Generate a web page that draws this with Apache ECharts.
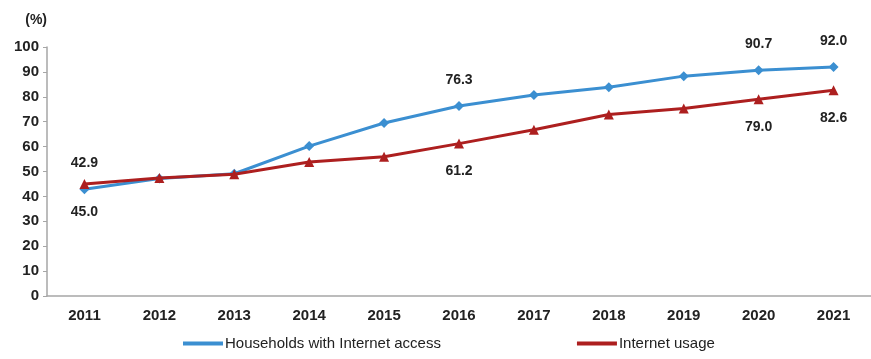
<!DOCTYPE html>
<html>
<head>
<meta charset="utf-8">
<script src="https://cdn.jsdelivr.net/npm/echarts@6/dist/echarts.min.js"></script>
<style>
  html, body { margin: 0; padding: 0; background: #fff; }
</style>
</head>
<body>
<div id="chart" style="width: 871px;height: 359px;"></div>
<script>
  // 数据
  const years = ['2011', '2012', '2013', '2014', '2015', '2016', '2017', '2018', '2019', '2020', '2021']
  const households = [42.9, 47.2, 49.1, 60.2, 69.5, 76.3, 80.7, 83.8, 88.3, 90.7, 92.0]
  const usage = [45.0, 47.4, 48.9, 53.8, 55.9, 61.2, 66.8, 72.9, 75.3, 79.0, 82.6]
  const labelYears = ['2011', '2016', '2020', '2021']   // 只标注这几年的数值

  const labelFont = { fontFamily: 'Liberation Sans', fontWeight: 'bold', fontSize: 14, color: '#222' }

  let myChart = echarts.init(document.getElementById('chart'))
  myChart.setOption({
    animation: false,
    grid: { left: 47, right: 0, top: 47, bottom: 63 },
    legend: {
      bottom: 3,
      left: 178,
      itemGap: 136,
      itemWidth: 40,
      itemHeight: 4,
      icon: 'rect',
      textStyle: { fontFamily: 'Liberation Sans', fontSize: 15, color: '#222', padding: [0, 0, 0, -3] },
      data: ['Households with Internet access', 'Internet usage']
    },
    xAxis: {
      type: 'category',
      data: years,
      axisLine: { lineStyle: { color: '#a6a6a6', width: 1.5 } },
      axisTick: { lineStyle: { color: '#a6a6a6' }, length: 5 },
      axisLabel: { fontFamily: 'Liberation Sans', fontWeight: 'bold', fontSize: 15, color: '#222', margin: 12 }
    },
    yAxis: {
      type: 'value',
      min: 0,
      max: 100,
      interval: 10,
      name: '(%)',
      nameGap: 20,
      nameTextStyle: { fontFamily: 'Liberation Sans', fontWeight: 'bold', fontSize: 14, color: '#222', align: 'right', padding: [0, 0, 0, 0] },
      splitLine: { show: false },  // 消除横向背景线条
      axisLine: { show: true, lineStyle: { color: '#a6a6a6', width: 1.5 } },
      axisTick: { show: true, lineStyle: { color: '#a6a6a6' }, length: 4 },
      axisLabel: { fontFamily: 'Liberation Sans', fontWeight: 'bold', fontSize: 15, color: '#222', margin: 8 }
    },
    series: [{
      name: 'Households with Internet access',
      type: 'line',
      symbol: 'diamond',
      symbolSize: 10,
      data: households,
      itemStyle: { color: '#3b8fd1' },
      lineStyle: { color: '#3b8fd1', width: 3 },
      label: {
        show: true,
        position: 'top',
        distance: 14,
        ...labelFont,
        formatter: p => labelYears.includes(p.name) ? p.value.toFixed(1) : ''
      },
      z: 3
    }, {
      name: 'Internet usage',
      type: 'line',
      symbol: 'triangle',
      symbolSize: 10,
      data: usage,
      itemStyle: { color: '#ad1f1f' },
      lineStyle: { color: '#ad1f1f', width: 3 },
      label: {
        show: true,
        position: 'bottom',
        distance: 16,
        ...labelFont,
        formatter: p => labelYears.includes(p.name) ? p.value.toFixed(1) : ''
      },
      z: 4
    }]
  })
</script>
</body>
</html>
